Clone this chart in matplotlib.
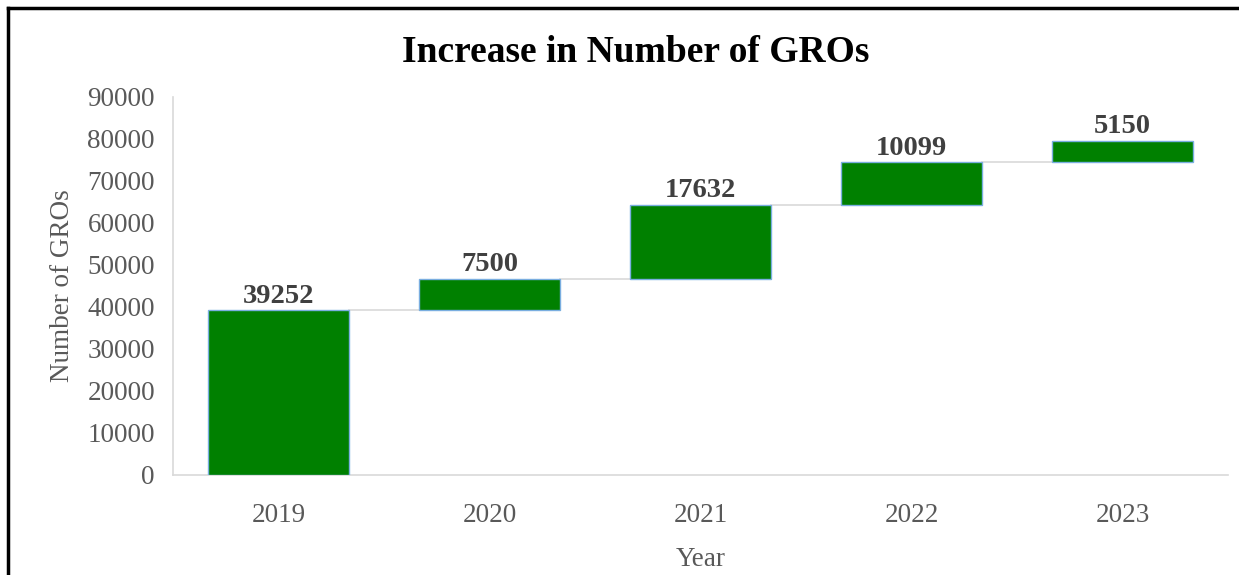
import numpy as np
import matplotlib
matplotlib.use('Agg')
import matplotlib.pyplot as plt
from matplotlib.lines import Line2D

# Data
years = ['2019', '2020', '2021', '2022', '2023']
increase = [39252, 7500, 17632, 10099, 5150]
y_ticks = [0, 10000, 20000, 30000, 40000, 50000, 60000, 70000, 80000, 90000]

plt.rcParams['font.family'] = ['Liberation Serif', 'DejaVu Serif']

W, H = 1239, 575
fig = plt.figure(figsize=(W / 100, H / 100), dpi=100)
fig.patch.set_facecolor('white')
ax = fig.add_axes([173 / W, 1 - 475 / H, (1228 - 173) / W, (475 - 97) / H])

# Waterfall bases
inc = np.array(increase, dtype=float)
tops = np.cumsum(inc)
bottoms = tops - inc
x = np.arange(len(years))
width = 0.67

ax.bar(x, inc, bottom=bottoms, width=width, color='#008000',
       edgecolor='#7aaee0', linewidth=1.0, zorder=3)

# Connector lines
for i in range(len(years) - 1):
    ax.plot([x[i] + width / 2, x[i + 1] - width / 2], [tops[i], tops[i]],
            color='#d9d9d9', linewidth=1.2, zorder=2)

# Value labels
for i, v in enumerate(increase):
    ax.text(x[i], tops[i] + 300, str(v), ha='center', va='bottom',
            fontsize=20.5, fontweight='bold', color='#404040', zorder=4)

ax.set_xlim(-0.5, len(years) - 0.5)
ax.set_ylim(0, 90000)
ax.set_yticks(y_ticks)
ax.set_xticks(x)
ax.set_xticklabels(years)
ax.tick_params(axis='both', length=0, labelsize=19.5, labelcolor='#595959')
ax.tick_params(axis='x', pad=20)
ax.tick_params(axis='y', pad=13)

for s in ['top', 'right']:
    ax.spines[s].set_visible(False)
for s in ['left', 'bottom']:
    ax.spines[s].set_color('#d9d9d9')
    ax.spines[s].set_linewidth(1.2)

ax.set_xlabel('Year', fontsize=19.5, color='#595959', labelpad=14)
ax.set_ylabel('Number of GROs', fontsize=19.5, color='#595959', labelpad=9)

fig.text(636 / W, 1 - 52 / H, 'Increase in Number of GROs', ha='center',
         va='center', fontsize=27, fontweight='bold', color='black')

# Outer frame (left and top edges visible)
fig.add_artist(Line2D([8 / W, 8 / W], [0, 1 - 8 / H], transform=fig.transFigure,
                      color='black', linewidth=2.5))
fig.add_artist(Line2D([8 / W, 1], [1 - 8 / H, 1 - 8 / H], transform=fig.transFigure,
                      color='black', linewidth=2.5))

fig.savefig('out.png', dpi=100)
